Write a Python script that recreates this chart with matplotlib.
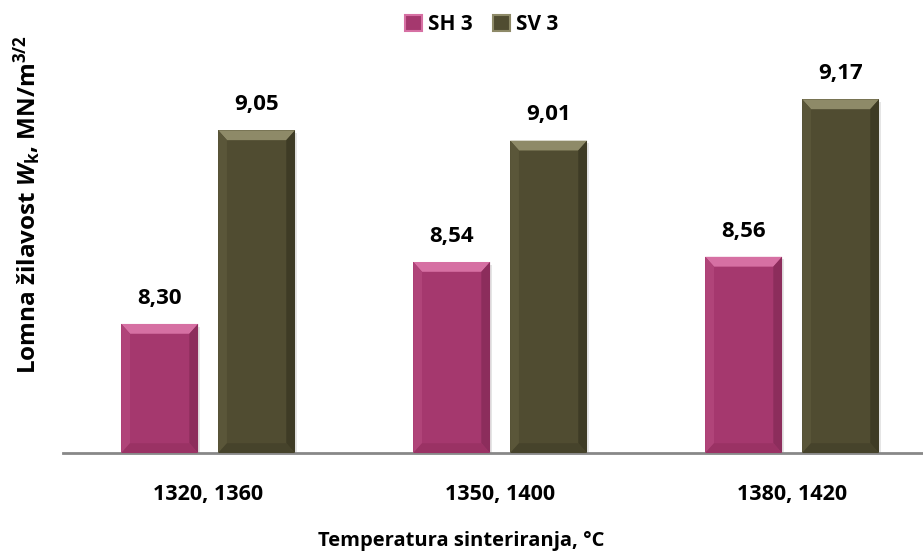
import matplotlib
matplotlib.use("Agg")
import matplotlib.pyplot as plt
from matplotlib.patches import Polygon, Patch
import numpy as np

pisava = 'Open Sans'
plt.rcParams['font.family'] = [pisava, 'DejaVu Sans']
plt.rcParams['font.weight'] = 'bold'
plt.rcParams['mathtext.fontset'] = 'custom'
plt.rcParams['mathtext.rm'] = pisava + ':bold'
plt.rcParams['mathtext.it'] = pisava + ':italic:bold'
plt.rcParams['mathtext.bf'] = pisava + ':bold'

# podatki
kategorije = ['1320, 1360', '1350, 1400', '1380, 1420']
sh3 = [8.30, 8.54, 8.56]
sv3 = [9.05, 9.01, 9.17]
serije = ['SH 3', 'SV 3']

barve = {
    'SH 3': dict(main='#A5386E', top='#D670A3', left='#B04479', right='#8C2D5C', bot='#9A3264'),
    'SV 3': dict(main='#504C31', top='#8E8A68', left='#5A5639', right='#3E3B25', bot='#46432B'),
}

fig = plt.figure(figsize=(9.23, 5.53), dpi=100)
ax = fig.add_axes([0.0683, 0.1808, 0.9307, 0.7469])
ax.set_xlim(-0.497, 2.445)
ax.set_ylim(7.8, 9.4)

x = np.arange(len(kategorije))
sirina = 0.263
zamik = 0.166

bx, by = 0.03, 0.038   # bevel (data units)


def bevel(ax, rects, c):
    for r in rects:
        x0, y0 = r.get_x(), r.get_y()
        x1, y1 = x0 + r.get_width(), y0 + r.get_height()
        # senca
        ax.add_patch(Polygon([(x0 + 0.006, y0), (x1 + 0.008, y0), (x1 + 0.008, y1 - 0.01),
                              (x0 + 0.006, y1 - 0.01)], closed=True, fc='#000000',
                             alpha=0.10, ec='none', zorder=1.5))
        ax.add_patch(Polygon([(x0, y1), (x1, y1), (x1 - bx, y1 - by), (x0 + bx, y1 - by)],
                             closed=True, fc=c['top'], ec='none', zorder=3))
        ax.add_patch(Polygon([(x0, y0), (x0, y1), (x0 + bx, y1 - by), (x0 + bx, y0 + by)],
                             closed=True, fc=c['left'], ec='none', zorder=3))
        ax.add_patch(Polygon([(x1, y0), (x1, y1), (x1 - bx, y1 - by), (x1 - bx, y0 + by)],
                             closed=True, fc=c['right'], ec='none', zorder=3))
        ax.add_patch(Polygon([(x0, y0), (x1, y0), (x1 - bx, y0 + by), (x0 + bx, y0 + by)],
                             closed=True, fc=c['bot'], ec='none', zorder=3))


for vrednosti, ime, d in [(sh3, 'SH 3', -zamik), (sv3, 'SV 3', zamik)]:
    c = barve[ime]
    rects = ax.bar(x + d, np.array(vrednosti) - 7.8, sirina, bottom=7.8,
                   color=c['main'], edgecolor='none', zorder=2)
    bevel(ax, rects, c)
    for xi, v in zip(x + d, vrednosti):
        ax.annotate(f'{v:.2f}'.replace('.', ','), (xi, v), xytext=(0, 11),
                    textcoords='offset points', ha='center', va='bottom',
                    fontsize=16, fontweight='bold', color='black')

for s in ['top', 'right', 'left']:
    ax.spines[s].set_visible(False)
ax.spines['bottom'].set_color('#888888')
ax.spines['bottom'].set_linewidth(2)
ax.set_yticks([])
ax.set_xticks(x)
ax.set_xticklabels(kategorije, fontsize=15.5, fontweight='bold')
ax.tick_params(axis='x', length=0, pad=22)

fig.text(0.5, 0.004, 'Temperatura sinteriranja, °C', ha='center', va='bottom',
         fontsize=14.5, fontweight='bold')
fig.text(0.03, 0.63, r'Lomna žilavost $W_\mathrm{k}$, MN/m$^{3/2}$', rotation=90,
         ha='center', va='center', fontsize=17.5, fontweight='bold')

handles = [Patch(facecolor=barve[s]['main'], edgecolor=barve[s]['top'], linewidth=1.5)
           for s in serije]
fig.legend(handles, serije, loc='center', bbox_to_anchor=(0.522, 0.955), ncol=2,
           frameon=False, handlelength=0.8, handleheight=0.8,
           handletextpad=0.3, columnspacing=1.0, prop={'weight': 'bold', 'size': 15})

fig.savefig('out.png', dpi=100)
